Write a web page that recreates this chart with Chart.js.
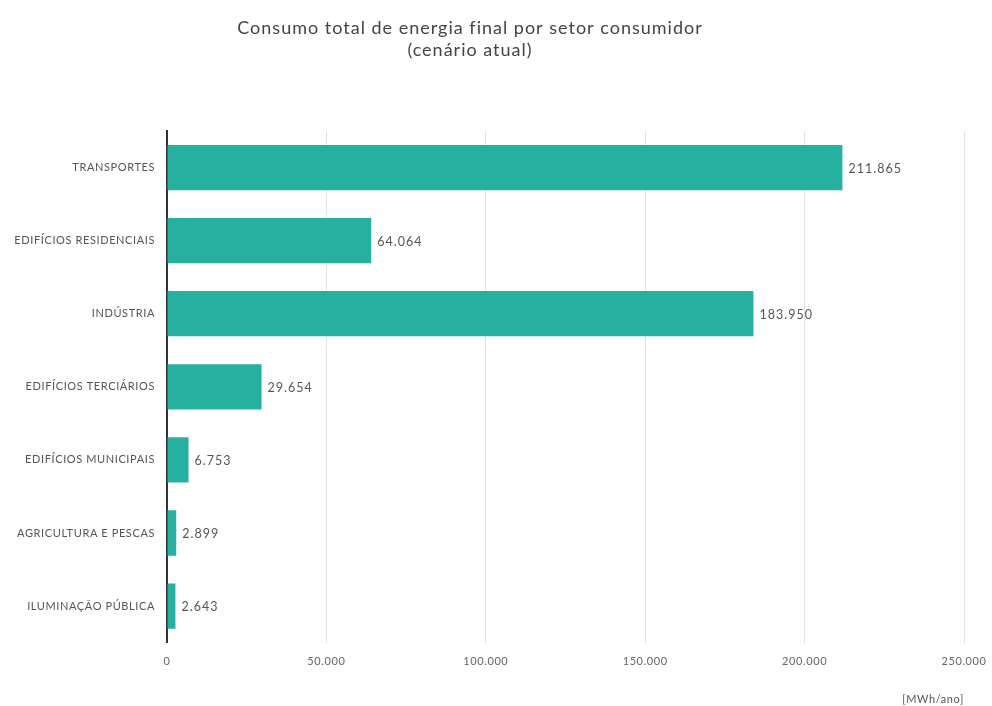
<!DOCTYPE html>
<html>
<head>
<meta charset="utf-8">
<script src="https://cdn.jsdelivr.net/npm/chart.js@4"></script>
<style>
  html, body { margin: 0; padding: 0; background: #fff; }
  #wrap { width: 992px; height: 706px; }
</style>
</head>
<body>
<div id="wrap"><canvas id="chart"></canvas></div>
<script>
// sectors, top to bottom
const sectors = [
    'TRANSPORTES',
    'EDIFÍCIOS RESIDENCIAIS',
    'INDÚSTRIA',
    'EDIFÍCIOS TERCIÁRIOS',
    'EDIFÍCIOS MUNICIPAIS',
    'AGRICULTURA E PESCAS',
    'ILUMINAÇÃO PÚBLICA'
];
// MWh/ano
const consumo = [211865, 64064, 183950, 29654, 6753, 2899, 2643];
const xTicks = [0, 50000, 100000, 150000, 200000, 250000];
const titleLines = ['Consumo total de energia final por setor consumidor', '(cenário atual)'];

const teal = 'rgb(38, 176, 160)';
const fontFamily = 'Lato, "Open Sans", sans-serif';

function fmt(v) {
    // portuguese style thousands separator
    return String(v).replace(/\B(?=(\d{3})+(?!\d))/g, '.');
}

// slightly wider text spacing, like the original
const spacing = {
    id: 'spacing',
    beforeDraw(chart) {
        chart.ctx.letterSpacing = '0.6px';
    }
};

// title, centered a bit left of the canvas middle
const titleText = {
    id: 'titleText',
    afterDraw(chart) {
        const ctx = chart.ctx;
        ctx.save();
        ctx.letterSpacing = '1px';
        ctx.font = '18px ' + fontFamily;
        ctx.fillStyle = '#444';
        ctx.textAlign = 'center';
        ctx.textBaseline = 'middle';
        titleLines.forEach((line, i) => {
            ctx.fillText(line, 470, 28 + i * 22);
        });
        ctx.restore();
    }
};

// draws the value to the right of each bar
const valueLabels = {
    id: 'valueLabels',
    afterDatasetsDraw(chart) {
        const ctx = chart.ctx;
        const meta = chart.getDatasetMeta(0);
        ctx.save();
        ctx.letterSpacing = '1px';
        ctx.font = '12.5px ' + fontFamily;
        ctx.fillStyle = '#555';
        ctx.textAlign = 'left';
        ctx.textBaseline = 'middle';
        meta.data.forEach((bar, i) => {
            ctx.fillText(fmt(consumo[i]), bar.x + 6, bar.y + 1);
        });
        ctx.restore();
    }
};

new Chart(document.getElementById('chart'), {
    type: 'bar',
    data: {
        labels: sectors,
        datasets: [{
            data: consumo,
            backgroundColor: teal,
            borderWidth: 0,
            barPercentage: 0.62,
            categoryPercentage: 1
        }]
    },
    options: {
        indexAxis: 'y',
        responsive: true,
        maintainAspectRatio: false,
        animation: false,
        layout: { padding: { top: 131, right: 28, bottom: 0, left: 0 } },
        plugins: {
            legend: { display: false },
            tooltip: { enabled: false },
            title: { display: false }
        },
        scales: {
            x: {
                min: 0,
                max: 250000,
                afterBuildTicks: (scale) => { scale.ticks = xTicks.map(v => ({ value: v })); },
                // let the last tick label hang past the padding
                afterFit: (scale) => { scale.paddingRight = 0; },
                grid: { color: '#e3e3e3', lineWidth: 1, drawTicks: false },
                border: { display: false },
                ticks: {
                    color: '#666',
                    padding: 12,
                    font: { family: fontFamily, size: 11 },
                    callback: (v) => fmt(v)
                },
                title: {
                    display: true,
                    align: 'end',
                    text: '[MWh/ano]',
                    color: '#555',
                    font: { family: fontFamily, size: 11 },
                    padding: { top: 13, bottom: 0 }
                }
            },
            y: {
                grid: { display: false },
                border: { display: true, color: '#333', width: 2 },
                afterFit: (scale) => { scale.width = 167; },
                ticks: {
                    color: '#555',
                    padding: 4,
                    font: { family: fontFamily, size: 11 }
                }
            }
        }
    },
    plugins: [spacing, titleText, valueLabels]
});
</script>
</body>
</html>
